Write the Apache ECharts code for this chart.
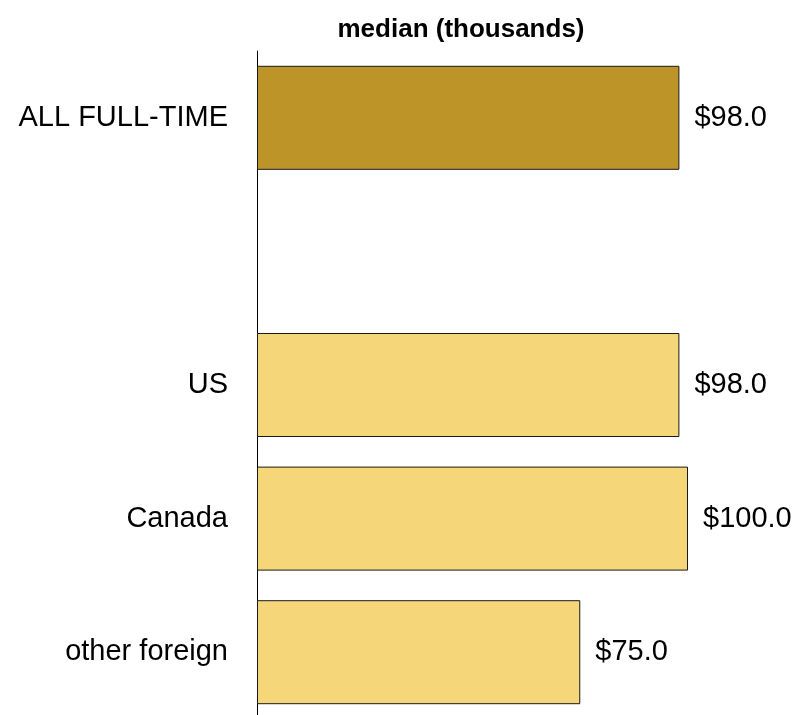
<!DOCTYPE html>
<html>
<head>
<meta charset="utf-8">
<script src="https://cdn.jsdelivr.net/npm/echarts@6/dist/echarts.min.js"></script>
<style>
  html, body { margin: 0; padding: 0; background: #fff; }
  #chart { width: 796px; height: 715px; }
</style>
</head>
<body>
<div id="chart"></div>
<script>
// Median salary (thousands of dollars) by group; the blank entry leaves a gap row.
const categories = ['ALL FULL-TIME', '', 'US', 'Canada', 'other foreign'];
const medians = [98.0, null, 98.0, 100.0, 75.0];
const totalColor = '#BC9428';
const groupColor = '#F5D678';

const chart = echarts.init(document.getElementById('chart'));

const seriesData = medians.map((v, i) => ({
  value: v,
  itemStyle: { color: i === 0 ? totalColor : groupColor }
}));

chart.setOption({
  animation: false,
  title: {
    text: 'median (thousands)',
    left: 456,
    textAlign: 'center',
    top: 12,
    textStyle: { fontFamily: 'Liberation Sans', fontSize: 26, fontWeight: 'bold', color: '#000' }
  },
  // the last row runs a little past the bottom edge, so the plot is not clamped to the canvas
  grid: { left: 257, top: 51, width: 431, height: 668, outerBoundsMode: 'none' },
  xAxis: {
    type: 'value',
    min: 0,
    max: 100,
    show: false
  },
  yAxis: {
    type: 'category',
    data: categories,
    inverse: true,
    axisLine: { show: true, lineStyle: { color: '#000', width: 1 } },
    axisTick: { show: false },
    axisLabel: {
      margin: 29,
      fontFamily: 'Liberation Sans',
      fontSize: 29,
      color: '#000'
    }
  },
  series: [{
    type: 'bar',
    data: seriesData,
    barWidth: 104,
    itemStyle: { borderColor: '#1a1a1a', borderWidth: 1 },
    label: {
      show: true,
      position: 'right',
      distance: 15,
      fontFamily: 'Liberation Sans',
      fontSize: 29,
      color: '#000',
      formatter: p => '$' + Number(p.value).toFixed(1)
    }
  }]
});
</script>
</body>
</html>
